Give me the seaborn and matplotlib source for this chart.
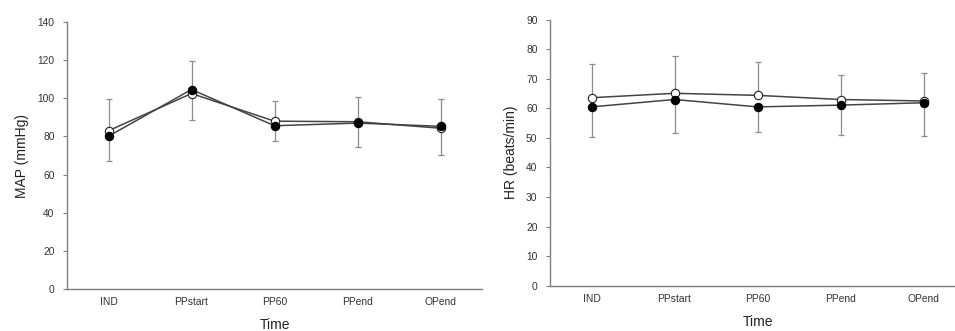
import numpy as np
import pandas as pd
import matplotlib
matplotlib.use("Agg")
import matplotlib.pyplot as plt
import seaborn as sns

categories = ["IND", "PPstart", "PP60", "PPend", "OPend"]

map_open = [83.0, 102.5, 88.0, 87.7, 84.3]
map_filled = [80.1, 104.6, 85.6, 87.0, 85.3]
map_upper = [99.6, 119.3, 98.6, 100.9, 99.5]
map_lower = [67.3, 88.8, 77.4, 74.5, 70.3]

hr_open = [63.6, 65.1, 64.4, 63.0, 62.5]
hr_filled = [60.5, 63.0, 60.5, 61.1, 61.9]
hr_upper = [74.9, 77.7, 75.8, 71.4, 71.9]
hr_lower = [50.4, 51.7, 51.9, 51.1, 50.6]

sns.set_style("white")
plt.rcParams["font.family"] = ["Liberation Sans", "DejaVu Sans"]

fig = plt.figure(figsize=(9.55, 3.31), dpi=100)
ax1 = fig.add_axes([67 / 955, 42 / 331, 415 / 955, 267 / 331])
ax2 = fig.add_axes([550 / 955, 45.3 / 331, 415 / 955, 266 / 331])

axis_gray = "#7f7f7f"
line_gray = "#444444"
err_gray = "#8c8c8c"


def draw(ax, open_v, filled_v, upper, lower, ylim, yticks, ylabel):
    x = np.arange(len(categories))
    # error bars: upper from the open series, lower from the filled series
    ax.errorbar(x, open_v, yerr=[np.zeros(len(x)), np.array(upper) - np.array(open_v)],
                fmt="none", ecolor=err_gray, elinewidth=0.9, capsize=2.5, capthick=0.9, zorder=1)
    ax.errorbar(x, filled_v, yerr=[np.array(filled_v) - np.array(lower), np.zeros(len(x))],
                fmt="none", ecolor=err_gray, elinewidth=0.9, capsize=2.5, capthick=0.9, zorder=1)
    df_o = pd.DataFrame({"x": x, "y": open_v})
    df_f = pd.DataFrame({"x": x, "y": filled_v})
    sns.lineplot(data=df_o, x="x", y="y", ax=ax, color=line_gray, linewidth=1.1,
                 marker="o", markersize=6, markerfacecolor="white",
                 markeredgecolor="#222222", markeredgewidth=0.8, zorder=3)
    sns.lineplot(data=df_f, x="x", y="y", ax=ax, color=line_gray, linewidth=1.1,
                 marker="o", markersize=6, markerfacecolor="black",
                 markeredgecolor="black", markeredgewidth=0.8, zorder=4)
    ax.set_xlim(-0.5, len(categories) - 0.5)
    ax.set_ylim(*ylim)
    ax.set_yticks(yticks)
    ax.set_yticklabels([str(t) for t in yticks], fontsize=7.4, color="#333333")
    ax.set_xticks(x)
    ax.set_xticklabels(categories, fontsize=7.4, color="#333333")
    ax.set_xticks(np.arange(len(categories) - 1) + 0.5, minor=True)
    ax.tick_params(axis="x", which="major", length=0, pad=6)
    ax.tick_params(axis="x", which="minor", length=3, width=0.8, color=axis_gray, direction="out")
    ax.tick_params(axis="y", which="major", length=3, width=0.8, color=axis_gray,
                   direction="out", left=True, pad=6)
    for s in ["top", "right"]:
        ax.spines[s].set_visible(False)
    for s in ["left", "bottom"]:
        ax.spines[s].set_color(axis_gray)
        ax.spines[s].set_linewidth(1.0)
    ax.set_ylabel(ylabel, fontsize=10, color="#222222", labelpad=6)
    ax.set_xlabel("Time", fontsize=10, color="#222222", labelpad=8)
    ax.patch.set_alpha(0)


draw(ax1, map_open, map_filled, map_upper, map_lower, (0, 140), list(range(0, 141, 20)), "MAP (mmHg)")
draw(ax2, hr_open, hr_filled, hr_upper, hr_lower, (0, 90), list(range(0, 91, 10)), "HR (beats/min)")

fig.savefig("out.png", dpi=100)
